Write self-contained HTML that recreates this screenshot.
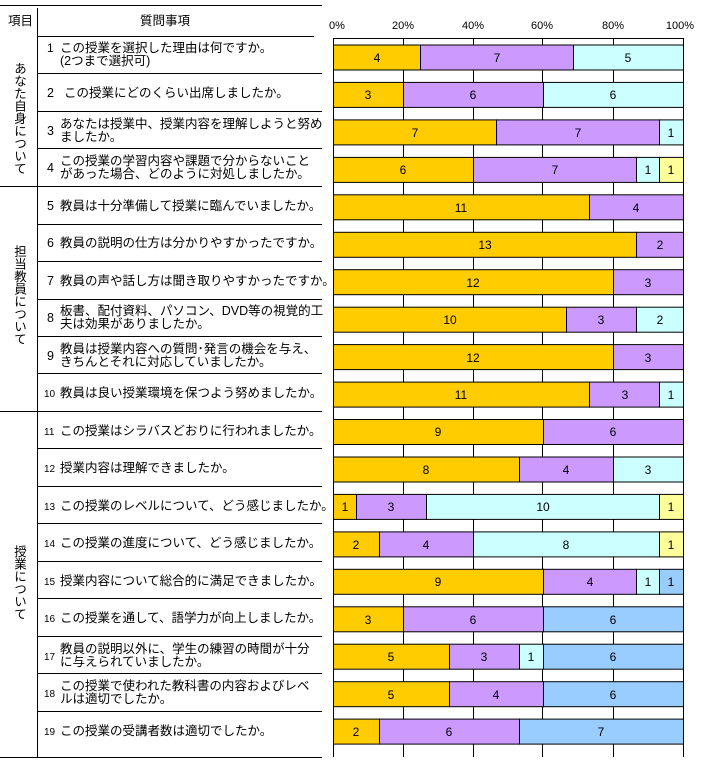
<!DOCTYPE html>
<html><head><meta charset="utf-8"><style>
body{margin:0;background:#fff}
svg{display:block;font-family:"Liberation Sans","Noto Sans CJK JP",sans-serif}
.t{font-size:12.5px}
.n{font-size:12px}
.s{font-size:10px}
.ax{font-size:11px}
.b text{font-size:12px;text-anchor:middle}
</style></head><body>
<svg width="702" height="761" viewBox="0 0 702 761" xmlns="http://www.w3.org/2000/svg">
<g stroke="#000" stroke-width="1" shape-rendering="crispEdges">
<line x1="0" y1="5.5" x2="322" y2="5.5"/>
<line x1="37.5" y1="8" x2="37.5" y2="758"/>
<line x1="37" y1="36.5" x2="314" y2="36.5"/>
<line x1="37" y1="73.5" x2="322" y2="73.5"/>
<line x1="37" y1="111.5" x2="322" y2="111.5"/>
<line x1="37" y1="148.5" x2="322" y2="148.5"/>
<line x1="0" y1="186.5" x2="322" y2="186.5"/>
<line x1="37" y1="224.5" x2="322" y2="224.5"/>
<line x1="37" y1="261.5" x2="322" y2="261.5"/>
<line x1="37" y1="299.5" x2="322" y2="299.5"/>
<line x1="37" y1="336.5" x2="322" y2="336.5"/>
<line x1="37" y1="373.5" x2="322" y2="373.5"/>
<line x1="0" y1="411.5" x2="322" y2="411.5"/>
<line x1="37" y1="448.5" x2="322" y2="448.5"/>
<line x1="37" y1="486.5" x2="322" y2="486.5"/>
<line x1="37" y1="523.5" x2="322" y2="523.5"/>
<line x1="37" y1="561.5" x2="322" y2="561.5"/>
<line x1="37" y1="598.5" x2="322" y2="598.5"/>
<line x1="37" y1="636.5" x2="322" y2="636.5"/>
<line x1="37" y1="673.5" x2="322" y2="673.5"/>
<line x1="37" y1="711.5" x2="322" y2="711.5"/>
<line x1="0" y1="757.5" x2="322" y2="757.5"/>
<line x1="333" y1="38.5" x2="683" y2="38.5"/>
<line x1="333.5" y1="38" x2="333.5" y2="757"/>
<line x1="403.5" y1="38" x2="403.5" y2="757"/>
<line x1="473.5" y1="38" x2="473.5" y2="757"/>
<line x1="542.5" y1="38" x2="542.5" y2="757"/>
<line x1="613.5" y1="38" x2="613.5" y2="757"/>
<line x1="683.5" y1="38" x2="683.5" y2="757"/>
</g>
<g class="t">
<text x="8" y="25">項目</text>
<text x="140" y="25">質問事項</text>
<text x="329" y="29" class="ax" text-anchor="start">0%</text>
<text x="403" y="29" class="ax" text-anchor="middle">20%</text>
<text x="473" y="29" class="ax" text-anchor="middle">40%</text>
<text x="542" y="29" class="ax" text-anchor="middle">60%</text>
<text x="613" y="29" class="ax" text-anchor="middle">80%</text>
<text x="694" y="29" class="ax" text-anchor="end">100%</text>
</g>
<g class="t" style="writing-mode:vertical-rl;glyph-orientation-vertical:0">
<text x="19" y="62">あなた自身について</text>
<text x="19" y="245">担当教員について</text>
<text x="19" y="545">授業について</text>
</g>
<g class="t">
<text x="47" y="52"><tspan class="n">1</tspan></text><text x="60" y="52">この授業を選択した理由は何ですか。</text><text x="60" y="65">(2つまで選択可)</text>
<text x="47" y="97">2</text><text x="64" y="97">この授業にどのくらい出席しましたか。</text>
<text x="47" y="135">3</text><text x="60" y="128">あなたは授業中、授業内容を理解しようと努め</text><text x="60" y="141">ましたか。</text>
<text x="47" y="172">4</text><text x="60" y="165">この授業の学習内容や課題で分からないこと</text><text x="60" y="178">があった場合、どのように対処しましたか。</text>
<text x="47" y="210">5</text><text x="60" y="210">教員は十分準備して授業に臨んでいましたか。</text>
<text x="47" y="247">6</text><text x="60" y="247">教員の説明の仕方は分かりやすかったですか。</text>
<text x="47" y="285">7</text><text x="60" y="285">教員の声や話し方は聞き取りやすかったですか。</text>
<text x="47" y="322">8</text><text x="60" y="315">板書、配付資料、パソコン、DVD等の視覚的工</text><text x="60" y="328">夫は効果がありましたか。</text>
<text x="47" y="360">9</text><text x="60" y="353">教員は授業内容への質問･発言の機会を与え、</text><text x="60" y="366">きちんとそれに対応していましたか。</text>
<text x="44" y="397" class="s">10</text><text x="60" y="397">教員は良い授業環境を保つよう努めましたか。</text>
<text x="44" y="435" class="s">11</text><text x="60" y="435">この授業はシラバスどおりに行われましたか。</text>
<text x="44" y="472" class="s">12</text><text x="60" y="472">授業内容は理解できましたか。</text>
<text x="44" y="510" class="s">13</text><text x="60" y="510">この授業のレベルについて、どう感じましたか。</text>
<text x="44" y="547" class="s">14</text><text x="60" y="547">この授業の進度について、どう感じましたか。</text>
<text x="44" y="585" class="s">15</text><text x="60" y="585">授業内容について総合的に満足できましたか。</text>
<text x="44" y="622" class="s">16</text><text x="60" y="622">この授業を通して、語学力が向上しましたか。</text>
<text x="44" y="660" class="s">17</text><text x="60" y="653">教員の説明以外に、学生の練習の時間が十分</text><text x="60" y="666">に与えられていましたか。</text>
<text x="44" y="697" class="s">18</text><text x="60" y="690">この授業で使われた教科書の内容およびレベ</text><text x="60" y="703">ルは適切でしたか。</text>
<text x="44" y="735" class="s">19</text><text x="60" y="735">この授業の受講者数は適切でしたか。</text>
</g>
<g class="b" stroke="#000" stroke-width="1">
<rect x="333.5" y="45" width="87" height="25" fill="#FFCC00"/><rect x="420.5" y="45" width="153" height="25" fill="#CC99FF"/><rect x="573.5" y="45" width="110" height="25" fill="#CCFFFF"/>
<rect x="333.5" y="82.4" width="70" height="25" fill="#FFCC00"/><rect x="403.5" y="82.4" width="140" height="25" fill="#CC99FF"/><rect x="543.5" y="82.4" width="140" height="25" fill="#CCFFFF"/>
<rect x="333.5" y="119.9" width="163" height="25" fill="#FFCC00"/><rect x="496.5" y="119.9" width="163" height="25" fill="#CC99FF"/><rect x="659.5" y="119.9" width="24" height="25" fill="#CCFFFF"/>
<rect x="333.5" y="157.4" width="140" height="25" fill="#FFCC00"/><rect x="473.5" y="157.4" width="163" height="25" fill="#CC99FF"/><rect x="636.5" y="157.4" width="23" height="25" fill="#CCFFFF"/><rect x="659.5" y="157.4" width="24" height="25" fill="#FFFF99"/>
<rect x="333.5" y="194.8" width="256" height="25" fill="#FFCC00"/><rect x="589.5" y="194.8" width="94" height="25" fill="#CC99FF"/>
<rect x="333.5" y="232.3" width="303" height="25" fill="#FFCC00"/><rect x="636.5" y="232.3" width="47" height="25" fill="#CC99FF"/>
<rect x="333.5" y="269.7" width="280" height="25" fill="#FFCC00"/><rect x="613.5" y="269.7" width="70" height="25" fill="#CC99FF"/>
<rect x="333.5" y="307.2" width="233" height="25" fill="#FFCC00"/><rect x="566.5" y="307.2" width="70" height="25" fill="#CC99FF"/><rect x="636.5" y="307.2" width="47" height="25" fill="#CCFFFF"/>
<rect x="333.5" y="344.6" width="280" height="25" fill="#FFCC00"/><rect x="613.5" y="344.6" width="70" height="25" fill="#CC99FF"/>
<rect x="333.5" y="382.1" width="256" height="25" fill="#FFCC00"/><rect x="589.5" y="382.1" width="70" height="25" fill="#CC99FF"/><rect x="659.5" y="382.1" width="24" height="25" fill="#CCFFFF"/>
<rect x="333.5" y="419.5" width="210" height="25" fill="#FFCC00"/><rect x="543.5" y="419.5" width="140" height="25" fill="#CC99FF"/>
<rect x="333.5" y="457" width="186" height="25" fill="#FFCC00"/><rect x="519.5" y="457" width="94" height="25" fill="#CC99FF"/><rect x="613.5" y="457" width="70" height="25" fill="#CCFFFF"/>
<rect x="333.5" y="494.4" width="23" height="25" fill="#FFCC00"/><rect x="356.5" y="494.4" width="70" height="25" fill="#CC99FF"/><rect x="426.5" y="494.4" width="233" height="25" fill="#CCFFFF"/><rect x="659.5" y="494.4" width="24" height="25" fill="#FFFF99"/>
<rect x="333.5" y="531.9" width="46" height="25" fill="#FFCC00"/><rect x="379.5" y="531.9" width="94" height="25" fill="#CC99FF"/><rect x="473.5" y="531.9" width="186" height="25" fill="#CCFFFF"/><rect x="659.5" y="531.9" width="24" height="25" fill="#FFFF99"/>
<rect x="333.5" y="569.3" width="210" height="25" fill="#FFCC00"/><rect x="543.5" y="569.3" width="93" height="25" fill="#CC99FF"/><rect x="636.5" y="569.3" width="23" height="25" fill="#CCFFFF"/><rect x="659.5" y="569.3" width="24" height="25" fill="#99CCFF"/>
<rect x="333.5" y="606.8" width="70" height="25" fill="#FFCC00"/><rect x="403.5" y="606.8" width="140" height="25" fill="#CC99FF"/><rect x="543.5" y="606.8" width="140" height="25" fill="#99CCFF"/>
<rect x="333.5" y="644.2" width="116" height="25" fill="#FFCC00"/><rect x="449.5" y="644.2" width="70" height="25" fill="#CC99FF"/><rect x="519.5" y="644.2" width="24" height="25" fill="#CCFFFF"/><rect x="543.5" y="644.2" width="140" height="25" fill="#99CCFF"/>
<rect x="333.5" y="681.7" width="116" height="25" fill="#FFCC00"/><rect x="449.5" y="681.7" width="94" height="25" fill="#CC99FF"/><rect x="543.5" y="681.7" width="140" height="25" fill="#99CCFF"/>
<rect x="333.5" y="719.1" width="46" height="25" fill="#FFCC00"/><rect x="379.5" y="719.1" width="140" height="25" fill="#CC99FF"/><rect x="519.5" y="719.1" width="164" height="25" fill="#99CCFF"/>
</g>
<g class="b" fill="#000">
<text x="377" y="62">4</text><text x="497" y="62">7</text><text x="628" y="62">5</text>
<text x="368" y="99">3</text><text x="473" y="99">6</text><text x="613" y="99">6</text>
<text x="415" y="137">7</text><text x="578" y="137">7</text><text x="671" y="137">1</text>
<text x="403" y="174">6</text><text x="555" y="174">7</text><text x="648" y="174">1</text><text x="671" y="174">1</text>
<text x="461" y="212">11</text><text x="636" y="212">4</text>
<text x="485" y="249">13</text><text x="660" y="249">2</text>
<text x="473" y="287">12</text><text x="648" y="287">3</text>
<text x="450" y="324">10</text><text x="601" y="324">3</text><text x="660" y="324">2</text>
<text x="473" y="362">12</text><text x="648" y="362">3</text>
<text x="461" y="399">11</text><text x="625" y="399">3</text><text x="671" y="399">1</text>
<text x="438" y="436">9</text><text x="613" y="436">6</text>
<text x="426" y="474">8</text><text x="566" y="474">4</text><text x="648" y="474">3</text>
<text x="345" y="511">1</text><text x="391" y="511">3</text><text x="543" y="511">10</text><text x="671" y="511">1</text>
<text x="356" y="549">2</text><text x="426" y="549">4</text><text x="566" y="549">8</text><text x="671" y="549">1</text>
<text x="438" y="586">9</text><text x="590" y="586">4</text><text x="648" y="586">1</text><text x="671" y="586">1</text>
<text x="368" y="624">3</text><text x="473" y="624">6</text><text x="613" y="624">6</text>
<text x="391" y="661">5</text><text x="484" y="661">3</text><text x="531" y="661">1</text><text x="613" y="661">6</text>
<text x="391" y="699">5</text><text x="496" y="699">4</text><text x="613" y="699">6</text>
<text x="356" y="736">2</text><text x="449" y="736">6</text><text x="601" y="736">7</text>
</g>
</svg>
</body></html>
